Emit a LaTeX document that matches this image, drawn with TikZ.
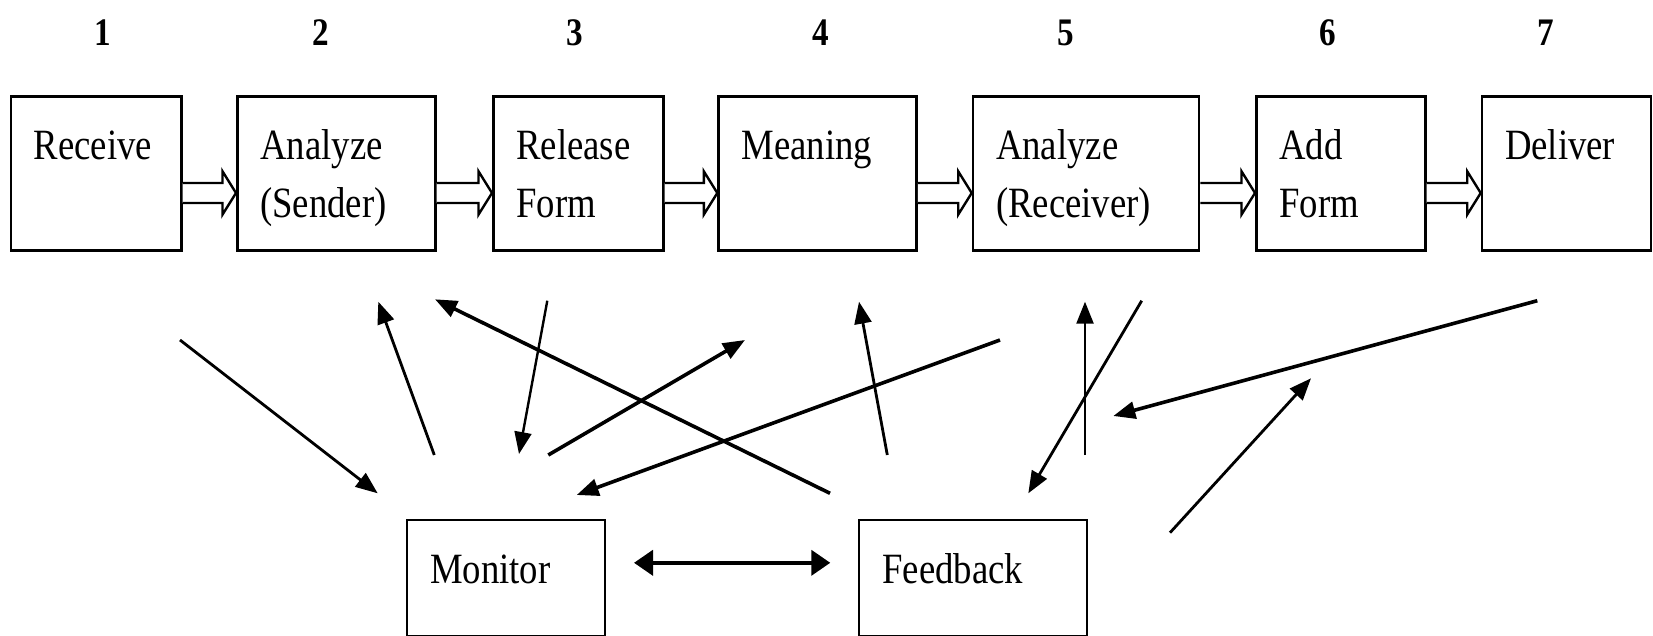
\documentclass[tikz,border=0pt]{standalone}
\usepackage{fontspec}
\setmainfont{Liberation Serif}[FakeStretch=0.85]
\usetikzlibrary{arrows.meta,calc}
\hyphenpenalty=10000

\tikzset{
  box/.style={draw, line width=1.3pt, anchor=north west, align=left,
    inner xsep=11.5pt, inner ysep=0pt, text height=31.5pt, text depth=45.5pt,
    font=\fontsize{21.6}{29}\selectfont},
  lowbox/.style={box, line width=1pt, text height=31.5pt, text depth=26.5pt},
  num/.style={font=\fontsize{19.5}{22}\selectfont\bfseries, inner sep=0pt},
  flow/.style={line width=1.2pt, fill=white},
  link/.style={line width=1.4pt, -{Triangle[length=11pt,width=8.5pt]}},
  heavy/.style={link, line width=1.8pt},
  both/.style={line width=2pt, {Triangle[length=9.5pt,width=12.5pt]}-{Triangle[length=9.5pt,width=12.5pt]}},
}

% hollow block arrow from box #1 to box #2
\newcommand{\flowarrow}[2]{%
  \draw[flow] ($(#1.east)+(0,9.7)$) -- ($(#2.west)+(-13.5,9.7)$)
    -- ($(#2.west)+(-13.5,-2)$) -- ($(#2.west)+(0,19.7)$)
    -- ($(#2.west)+(-13.5,41.3)$) -- ($(#2.west)+(-13.5,29.7)$)
    -- ($(#1.east)+(0,29.7)$);}

\begin{document}
\begin{tikzpicture}[x=0.5pt, y=-0.5pt]
\useasboundingbox (0,0) rectangle (1653,636);

% step numbers
\node[num] (n1) at (103,33) {1};
\node[num] (n2) at (321,33) {2};
\node[num] (n3) at (575,33) {3};
\node[num] (n4) at (821,33) {4};
\node[num] (n5) at (1066,33) {5};
\node[num] (n6) at (1328,33) {6};
\node[num] (n7) at (1546,33) {7};

% process boxes
\node[box, text width=62.3pt] (recv) at (9.5,95) {Receive};
\node[box, text width=76pt] (snd) at (236,95) {Analyze\\(Sender)};
\node[box, text width=62pt] (rel) at (492,95) {Release\\Form};
\node[box, text width=76pt] (mean) at (717.3,95) {Meaning};
\node[box, text width=90pt] (rcv) at (971.7,95) {Analyze\\(Receiver)};
\node[box, text width=61.5pt] (add) at (1255,95) {Add\\Form};
\node[box, text width=61.5pt] (dlv) at (1480.7,95) {Deliver};

\node[lowbox, text width=76pt] (mon) at (406,519) {Monitor};
\node[lowbox, text width=90.7pt] (fb) at (858.3,519) {Feedback};

\flowarrow{recv}{snd}
\flowarrow{snd}{rel}
\flowarrow{rel}{mean}
\flowarrow{mean}{rcv}
\flowarrow{rcv}{add}
\flowarrow{add}{dlv}

% free ends of the loose arrows
\coordinate (recv-o) at (180,340);
\coordinate (mon-i1) at (377.7,493.3);
\coordinate (mon-o1) at (434.3,455);
\coordinate (snd-i1) at (378.3,301.7);
\coordinate (fb-o1) at (830,493.3);
\coordinate (snd-i2) at (435,299.3);
\coordinate (rel-o) at (547.3,300.7);
\coordinate (mon-i2) at (519,454);
\coordinate (mon-o2) at (548.3,455);
\coordinate (mean-i1) at (745,340);
\coordinate (rcv-o1) at (1000,340);
\coordinate (mon-i3) at (576.7,495);
\coordinate (fb-o2) at (887.3,455);
\coordinate (mean-i2) at (859,301.7);
\coordinate (fb-o3) at (1085,455);
\coordinate (rcv-i) at (1085,301.7);
\coordinate (rcv-o2) at (1141.7,300.7);
\coordinate (fb-i1) at (1028.3,493.3);
\coordinate (dlv-o) at (1537.3,300.7);
\coordinate (fb-i2) at (1113.3,416);
\coordinate (fb-o4) at (1170,532.7);
\coordinate (add-i) at (1311,378.3);

\draw[link] (recv-o) -- (mon-i1);
\draw[link] (mon-o1) -- (snd-i1);
\draw[heavy] (fb-o1) -- (snd-i2);
\draw[link, line width=1.2pt] (rel-o) -- (mon-i2);
\draw[heavy] (mon-o2) -- (mean-i1);
\draw[heavy] (rcv-o1) -- (mon-i3);
\draw[link] (fb-o2) -- (mean-i2);
\draw[link, line width=1.2pt] (fb-o3) -- (rcv-i);
\draw[link] (rcv-o2) -- (fb-i1);
\draw[heavy] (dlv-o) -- (fb-i2);
\draw[link] (fb-o4) -- (add-i);

\draw[both, shorten <=14pt, shorten >=14pt] ([yshift=7.6pt]mon.east) -- ([yshift=7.6pt]fb.west);
\end{tikzpicture}
\end{document}
